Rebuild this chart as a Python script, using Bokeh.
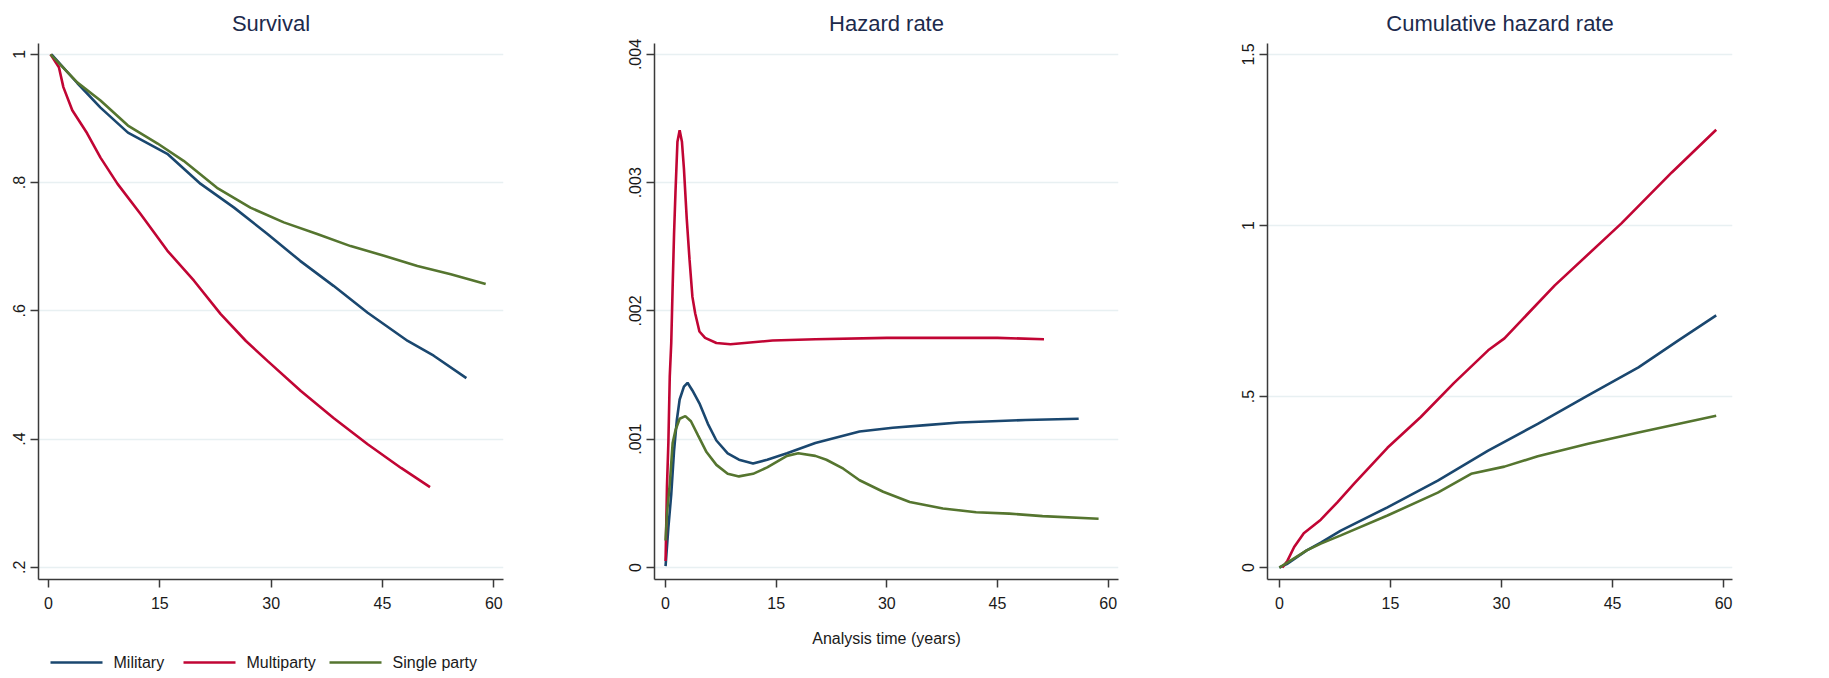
from bokeh.plotting import figure
from bokeh.layouts import row, column
from bokeh.models import FixedTicker, CustomJSTickFormatter, Range1d
from bokeh.core.properties import value
from bokeh.embed import file_html
from bokeh.resources import INLINE

# ---------------- data ----------------
groups = ["Military", "Multiparty", "Single party"]
colors = ["#1a476f", "#c10534", "#55752f"]

# Survival
surv_mil_t = [0.4, 3.9, 7.0, 10.7, 16.0, 20.5, 25.0, 29.5, 33.9, 38.4, 43.0, 48.4, 51.9, 56.3]
surv_mil_s = [1.0, 0.955, 0.917, 0.878, 0.845, 0.798, 0.761, 0.720, 0.678, 0.639, 0.597, 0.553, 0.530, 0.495]
surv_mul_t = [0.27, 1.4, 2.0, 3.2, 5.2, 7.0, 9.3, 12.4, 16.0, 19.6, 23.2, 26.6, 29.5, 34.0, 38.4, 43.0, 47.5, 51.4]
surv_mul_s = [1.0, 0.98, 0.949, 0.913, 0.877, 0.839, 0.798, 0.751, 0.694, 0.647, 0.595, 0.553, 0.522, 0.475, 0.433, 0.392, 0.355, 0.325]
surv_sin_t = [0.27, 3.9, 7.0, 10.7, 14.7, 18.2, 22.7, 27.2, 31.7, 36.2, 40.7, 45.2, 49.7, 54.2, 58.9]
surv_sin_s = [1.0, 0.956, 0.928, 0.889, 0.861, 0.834, 0.792, 0.761, 0.738, 0.720, 0.701, 0.686, 0.670, 0.657, 0.642]

# Hazard rate
haz_mil_t = [0.0, 0.38, 0.77, 1.15, 1.53, 1.91, 2.49, 2.98, 3.64, 4.59, 5.74, 6.89, 8.42, 9.95, 11.86, 13.78, 16.46,
             20.3, 26.3, 30.8, 35.3, 39.8, 44.3, 48.8, 56.0]
haz_mil_h = [0.00001, 0.00031, 0.00057, 0.00091, 0.00115, 0.00131, 0.00141, 0.00144, 0.00138, 0.00128, 0.00112,
             0.00099, 0.00089, 0.00084, 0.00081, 0.00084, 0.00089, 0.00097, 0.00106, 0.00109, 0.00111, 0.00113,
             0.00114, 0.00115, 0.00116]
haz_mul_t = [0.0, 0.19, 0.38, 0.57, 0.77, 0.96, 1.15, 1.34, 1.61, 1.91, 2.22, 2.49, 2.87, 3.25, 3.64, 4.02, 4.59,
             5.36, 6.89, 8.8, 10.7, 14.5, 20.3, 30.0, 38.0, 45.0, 51.3]
haz_mul_h = [0.00005, 0.00063, 0.00097, 0.00149, 0.00175, 0.00219, 0.0026, 0.00292, 0.00332, 0.00341, 0.00332,
             0.00311, 0.00272, 0.0024, 0.00211, 0.00198, 0.00184, 0.00179, 0.00175, 0.00174, 0.00175, 0.00177,
             0.00178, 0.00179, 0.00179, 0.00179, 0.00178]
haz_sin_t = [0.0, 0.19, 0.57, 0.96, 1.34, 1.91, 2.68, 3.44, 4.4, 5.55, 6.89, 8.42, 9.95, 11.86, 13.78, 16.46, 17.99,
             20.3, 21.8, 24.1, 26.3, 29.5, 33.1, 37.6, 42.1, 46.6, 51.1, 58.7]
haz_sin_h = [0.00021, 0.00042, 0.00065, 0.00097, 0.00107, 0.00116, 0.00118, 0.00114, 0.00103, 0.0009, 0.0008,
             0.00073, 0.00071, 0.00073, 0.00078, 0.00087, 0.00089, 0.00087, 0.00084, 0.00077, 0.00068, 0.00059,
             0.00051, 0.00046, 0.00043, 0.00042, 0.0004, 0.00038]

# Cumulative hazard rate
cum_mil_t = [0.0, 1.0, 3.7, 5.6, 8.3, 14.6, 21.4, 28.2, 34.9, 41.7, 48.5, 53.9, 59.0]
cum_mil_h = [0.0, 0.01, 0.05, 0.073, 0.108, 0.176, 0.254, 0.342, 0.42, 0.503, 0.585, 0.664, 0.737]
cum_mul_t = [0.4, 1.1, 2.0, 3.3, 5.6, 7.8, 10.1, 14.6, 19.1, 23.6, 28.2, 30.4, 37.2, 46.2, 53.0, 59.0]
cum_mul_h = [0.0, 0.02, 0.06, 0.10, 0.14, 0.19, 0.245, 0.35, 0.44, 0.54, 0.635, 0.67, 0.825, 1.006, 1.155, 1.28]
cum_sin_t = [0.0, 3.7, 5.6, 8.3, 14.6, 21.4, 25.9, 30.4, 34.9, 41.7, 48.5, 59.0]
cum_sin_h = [0.0, 0.05, 0.07, 0.094, 0.152, 0.219, 0.274, 0.295, 0.325, 0.362, 0.395, 0.444]

x_ticks = [0, 15, 30, 45, 60]
surv_ticks = [0.2, 0.4, 0.6, 0.8, 1.0]
surv_labels = [".2", ".4", ".6", ".8", "1"]
haz_ticks = [0, 0.001, 0.002, 0.003, 0.004]
haz_labels = ["0", ".001", ".002", ".003", ".004"]
cum_ticks = [0, 0.5, 1.0, 1.5]
cum_labels = ["0", ".5", "1", "1.5"]

FONT = "Liberation Sans"
TEXT = "#1a1a1a"
TITLE = "#1c2a4c"
GRID = "#e8f0f2"
AXIS = "#3a3a3a"


def make_fig(title, w, h, left, right, xr, yr, yticks, ylabels, bottom):
    p = figure(width=w, height=h, output_backend="svg", toolbar_location=None,
               x_range=Range1d(*xr), y_range=Range1d(*yr),
               min_border_left=left, min_border_right=right, min_border_top=43,
               min_border_bottom=bottom, title=title)
    p.title.align = "center"
    p.title.text_font = FONT
    p.title.text_font_size = "22px"
    p.title.text_font_style = "normal"
    p.title.text_color = TITLE
    p.title.offset = 0
    p.title.standoff = 16
    p.outline_line_color = None
    p.background_fill_color = "white"
    p.border_fill_color = "white"
    p.xgrid.grid_line_color = None
    p.ygrid.grid_line_color = GRID
    p.ygrid.grid_line_width = 1.5
    p.xaxis.ticker = FixedTicker(ticks=x_ticks)
    p.yaxis.ticker = FixedTicker(ticks=yticks)
    p.yaxis.formatter = CustomJSTickFormatter(args=dict(tvals=list(yticks), tlabs=list(ylabels)), code="""
        for (let i = 0; i < tvals.length; i++) { if (Math.abs(tick - tvals[i]) < 1e-9) return tlabs[i]; }
        return '';
    """)
    for ax in (p.xaxis, p.yaxis):
        ax.axis_line_color = AXIS
        ax.axis_line_width = 1.5
        ax.major_tick_line_color = AXIS
        ax.major_tick_line_width = 1.5
        ax.major_tick_out = 8
        ax.major_tick_in = 0
        ax.minor_tick_line_color = None
        ax.major_label_text_font = FONT
        ax.major_label_text_font_size = "16px"
        ax.major_label_text_color = TEXT
    p.xaxis.major_label_standoff = 9
    p.yaxis.major_label_standoff = 5
    p.yaxis.major_label_orientation = "vertical"
    return p


p1 = make_fig("Survival", 610, 650, 38, 107, (-1.35, 61.3), (0.181, 1.017), surv_ticks, surv_labels, 71)
p2 = make_fig("Hazard rate", 610, 678, 44, 102, (-1.5, 61.4), (-0.000094, 0.004086), haz_ticks, haz_labels, 99)
p3 = make_fig("Cumulative hazard rate", 609, 678, 47, 97, (-1.6, 61.2), (-0.035, 1.532), cum_ticks, cum_labels, 99)

series1 = [(surv_mil_t, surv_mil_s), (surv_mul_t, surv_mul_s), (surv_sin_t, surv_sin_s)]
series2 = [(haz_mil_t, haz_mil_h), (haz_mul_t, haz_mul_h), (haz_sin_t, haz_sin_h)]
series3 = [(cum_mil_t, cum_mil_h), (cum_mul_t, cum_mul_h), (cum_sin_t, cum_sin_h)]

for (t, v), c in zip(series1, colors):
    p1.line(t, v, line_color=c, line_width=2.6)
for (t, v), c in zip(series2, colors):
    p2.line(t, v, line_color=c, line_width=2.6)
for (t, v), c in zip(series3, colors):
    p3.line(t, v, line_color=c, line_width=2.6)

# legend strip under the first panel; its frame is aligned with p1's frame (page x 38..503),
# so the x range is set in page pixels (positions are layout only)
pl = figure(width=610, height=28, output_backend="svg", toolbar_location=None,
            x_range=Range1d(38, 503), y_range=Range1d(0, 28), x_axis_type=None, y_axis_type=None,
            min_border=0, min_border_left=38, min_border_right=107, min_border_top=0, min_border_bottom=0)
pl.outline_line_color = None
pl.background_fill_color = "white"
pl.border_fill_color = "white"
sample_starts = [50, 183, 329]
sample_len = 52
label_gap = 11
ymid = 16
for g, c, x0 in zip(groups, colors, sample_starts):
    pl.line([x0, x0 + sample_len], [ymid, ymid], line_color=c, line_width=2.6)
    pl.text(x=[x0 + sample_len + label_gap], y=[ymid], text=[g], text_font=value(FONT),
            text_font_size="16px", text_color=TEXT, text_baseline="middle", text_align="left")

p2.xaxis.axis_label = "Analysis time (years)"
p2.xaxis.axis_label_text_font = FONT
p2.xaxis.axis_label_text_font_size = "16px"
p2.xaxis.axis_label_text_font_style = "normal"
p2.xaxis.axis_label_text_color = TEXT
p2.xaxis.axis_label_standoff = 18

layout = row(column(p1, pl, spacing=0), p2, p3, spacing=0)
open("out.html", "w").write(file_html(layout, INLINE))
